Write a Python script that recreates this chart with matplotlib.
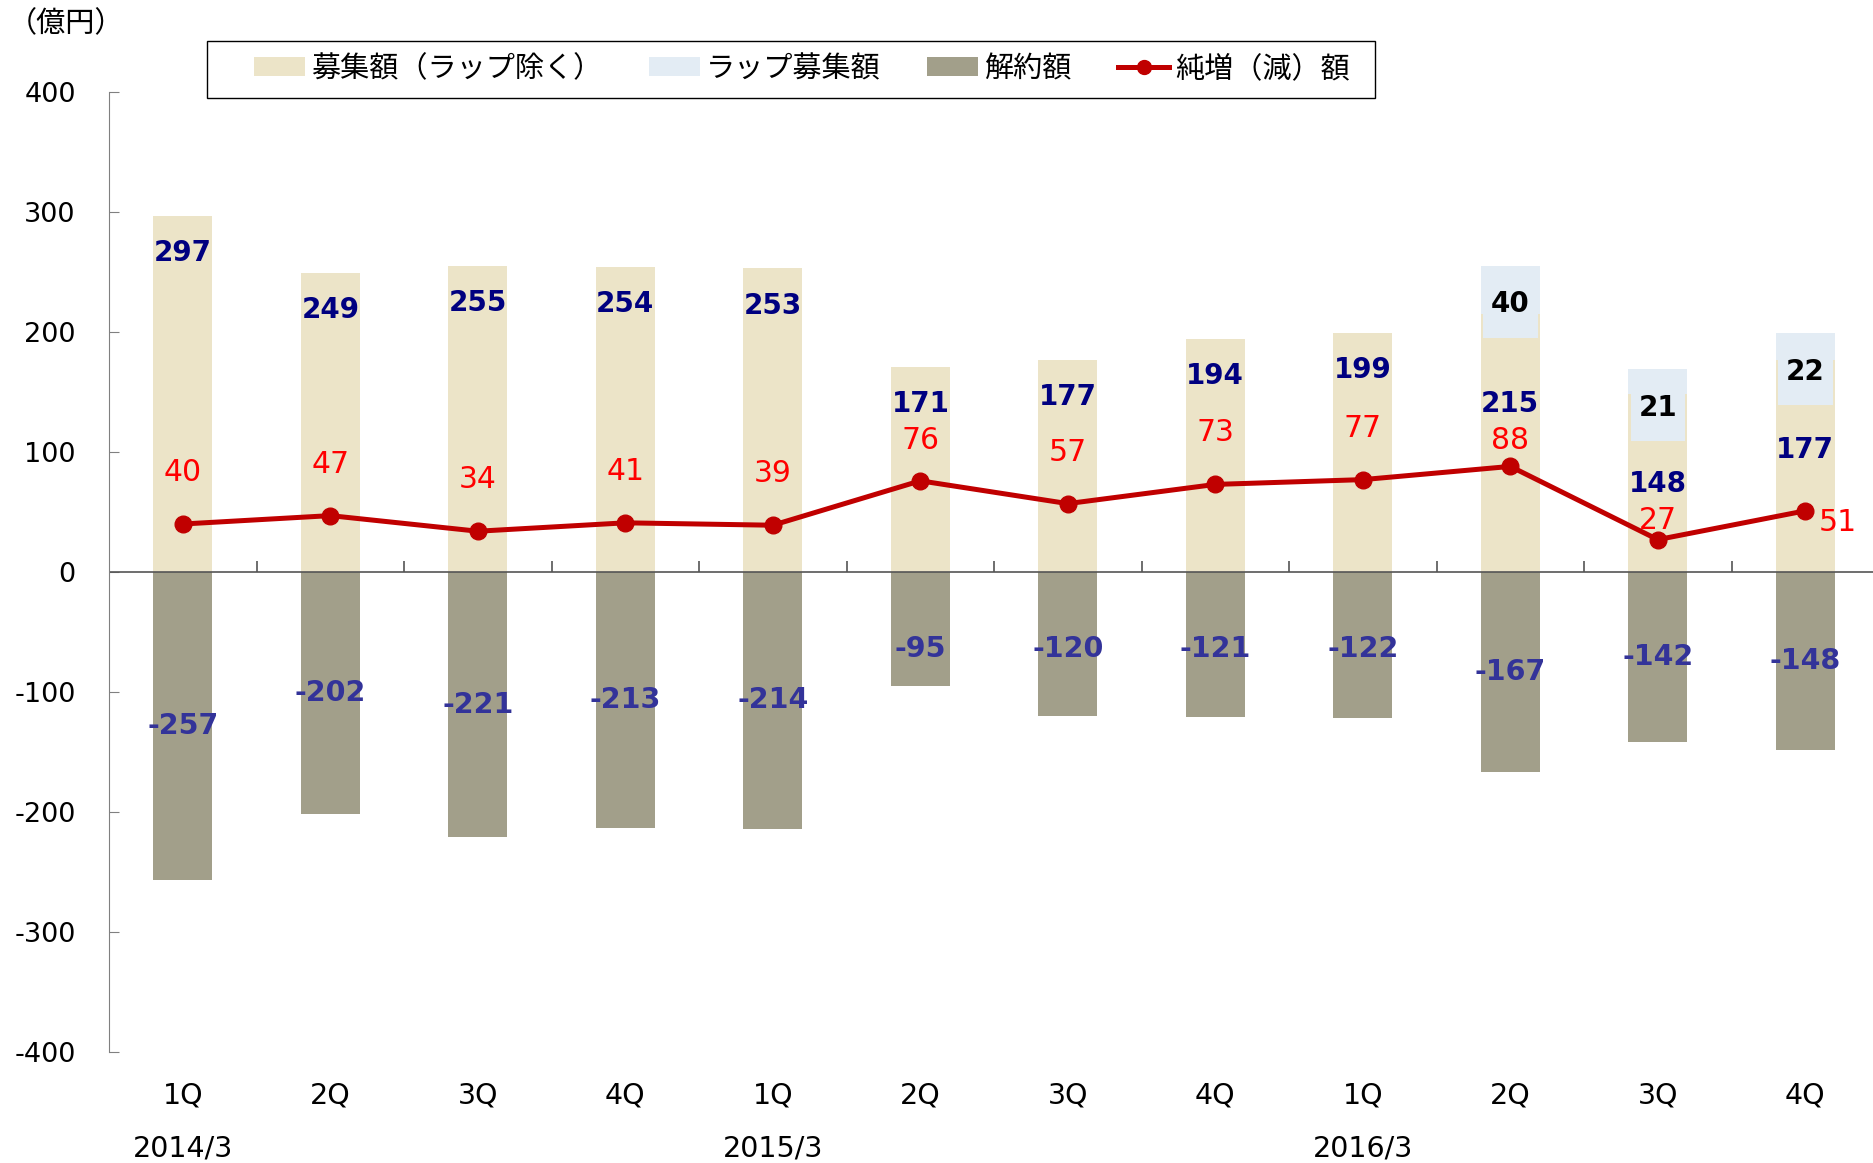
import matplotlib
matplotlib.use("Agg")
import matplotlib.pyplot as plt
from matplotlib.patches import Patch, Rectangle
from matplotlib.lines import Line2D

plt.rcParams['font.family'] = ['DejaVu Sans', 'Noto Sans CJK JP']
plt.rcParams['axes.unicode_minus'] = False
JP = ['Noto Sans CJK JP', 'DejaVu Sans']

quarters = ["1Q", "2Q", "3Q", "4Q", "1Q", "2Q", "3Q", "4Q", "1Q", "2Q", "3Q", "4Q"]
years = {0: "2014/3", 4: "2015/3", 8: "2016/3"}
sales = [297, 249, 255, 254, 253, 171, 177, 194, 199, 215, 148, 177]   # 募集額（ラップ除く）
wrap = [0, 0, 0, 0, 0, 0, 0, 0, 0, 40, 21, 22]                          # ラップ募集額
cancel = [-257, -202, -221, -213, -214, -95, -120, -121, -122, -167, -142, -148]  # 解約額
net = [40, 47, 34, 41, 39, 76, 57, 73, 77, 88, 27, 51]                  # 純増（減）額

c_sales = "#ECE4C8"
c_wrap = "#E3ECF4"
c_cancel = "#A29F8A"
c_net = "#C00000"

fig = plt.figure(figsize=(18.74, 11.63), dpi=100)
ax = fig.add_axes([0.0582, 0.0954, 0.9445, 0.8255])

x = list(range(len(quarters)))
w = 0.40
ax.bar(x, sales, width=w, color=c_sales, zorder=1)
ax.bar(x, wrap, width=w, bottom=sales, color=c_wrap, zorder=1)
ax.bar(x, cancel, width=w, color=c_cancel, zorder=1)
ax.plot(x, net, color=c_net, lw=3.6, marker="o", ms=12, zorder=4)

ax.axhline(0, color="#555555", lw=1.2, zorder=2)
ax.vlines([i + 0.5 for i in x[:-1]], 0, 9, color="#555555", lw=1.2, zorder=2)

box_h = 60  # label background of the wrap values
for i in x:
    # sales labels
    if wrap[i]:
        ys = sales[i] - 75
        top = sales[i] + wrap[i]
        ax.bar(i, box_h, width=0.37, bottom=top - box_h, color=c_wrap, zorder=1.5)
        ax.text(i, top - 32, str(wrap[i]), ha="center", va="center", fontsize=20,
                fontweight="bold", color="black", zorder=5)
    else:
        ys = sales[i] - 31
    ax.text(i, ys, str(sales[i]), ha="center", va="center", fontsize=20,
            fontweight="bold", color="#000080", zorder=5)
    # cancel labels
    yc = min(cancel[i] / 2, -64)
    ax.text(i, yc, str(cancel[i]), ha="center", va="center", fontsize=20.5,
            fontweight="bold", color="#333399", zorder=5)
    # net labels
    if i == len(x) - 1:
        ax.text(i + 0.09, net[i] - 10, str(net[i]), ha="left", va="center",
                fontsize=21.5, color="#FF0000", zorder=5)
    else:
        yn = min(net[i] + 43, ys - 30)
        ax.text(i, yn, str(net[i]), ha="center", va="center", fontsize=21.5,
                color="#FF0000", zorder=5)

ax.set_xlim(-0.5, 11.5)
ax.set_ylim(-400, 400)
ax.set_yticks(range(-400, 401, 100))
ax.tick_params(axis="y", direction="in", length=7, color="#808080",
               labelsize=19.5, pad=24)
ax.set_xticks([])
for s in ["top", "right", "bottom"]:
    ax.spines[s].set_visible(False)
ax.spines["left"].set_color("#808080")

trans = ax.get_xaxis_transform()
for i, q in enumerate(quarters):
    ax.text(i, -0.045, q, transform=trans, ha="center", va="center",
            fontsize=20.5, clip_on=False)
for i, yr in years.items():
    ax.text(i, -0.100, yr, transform=trans, ha="center", va="center",
            fontsize=20.5, clip_on=False)

fig.text(0.004, 0.979, "（億円）", ha="left", va="center", fontsize=21, family=JP)

# legend box drawn separately so the side gaps can match
fig.patches.append(Rectangle((207 / 1874, 1 - 98 / 1163), 1168 / 1874, 57 / 1163,
                             transform=fig.transFigure, fc="white", ec="black",
                             lw=1.0, zorder=0))
handles = [Patch(fc=c_sales, ec="none"), Patch(fc=c_wrap, ec="none"),
           Patch(fc=c_cancel, ec="none"),
           Line2D([], [], color=c_net, lw=3.6, marker="o", ms=10)]
labels = ["募集額（ラップ除く）", "ラップ募集額", "解約額", "純増（減）額"]
leg = fig.legend(handles, labels, loc="center left",
                 bbox_to_anchor=(254 / 1874, 1 - 69 / 1163),
                 ncol=4, prop={"family": JP, "size": 21},
                 frameon=False, handlelength=1.75, handleheight=0.65,
                 handletextpad=0.2, borderaxespad=0, borderpad=0,
                 columnspacing=1.6)

fig.savefig("out.png", dpi=100)
